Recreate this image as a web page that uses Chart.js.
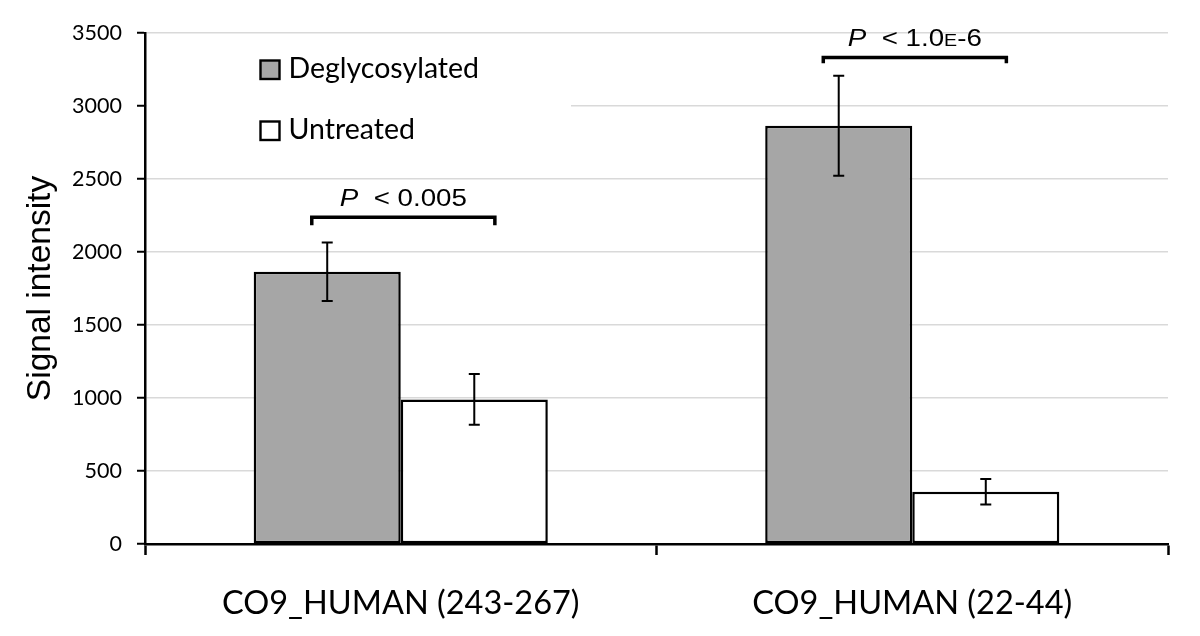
<!DOCTYPE html>
<html>
<head>
<meta charset="utf-8">
<script src="https://cdn.jsdelivr.net/npm/chart.js@4.4.1/dist/chart.umd.min.js"></script>
<style>
  html, body { margin: 0; padding: 0; background: #fff; }
  #wrap { width: 1200px; height: 636px; }
</style>
</head>
<body>
<div id="wrap"><canvas id="c" width="1200" height="636"></canvas></div>
<script>
// ---- data ----
const categories = ['CO9_HUMAN (243-267)', 'CO9_HUMAN (22-44)'];
const seriesNames = ['Deglycosylated', 'Untreated'];
const deglycosylatedValues = [1865, 2865];
const deglycosylatedErrors = [200, 343];
const untreatedValues = [990, 358];
const untreatedErrors = [174, 88];
const yTicks = [0, 500, 1000, 1500, 2000, 2500, 3000, 3500];
// significance brackets: level of bracket bar, level of bracket feet, label runs
const bracketLevels = [2238, 3333];
const bracketFeet = [2184, 3292];
const bracketLabels = [
  [['P', 'italic'], ['  < 0.005', 'normal']],
  [['P', 'italic'], ['  < 1.0', 'normal'], ['E', 'small'], ['-6', 'normal']]
];

const FONT_CAL = 'Lato, "Open Sans", sans-serif';
const FONT_ARIAL = '"Liberation Sans", Arial, sans-serif';
const P_STRETCH = 1.155;

const errorPlugin = {
  id: 'extras',
  beforeDatasetsDraw(chart) {
    const ctx = chart.ctx;
    const a = chart.chartArea;
    // legend background hides gridline behind it
    ctx.save();
    ctx.fillStyle = '#fff';
    ctx.fillRect(a.left + 2, a.top + 10, 424, 112);
    ctx.restore();
  },
  afterDatasetsDraw(chart) {
    const ctx = chart.ctx;
    const y = chart.scales.y;
    const a = chart.chartArea;
    const errs = [deglycosylatedErrors, untreatedErrors];
    ctx.save();
    ctx.strokeStyle = '#000';
    ctx.lineWidth = 2;
    chart.data.datasets.forEach((ds, di) => {
      const meta = chart.getDatasetMeta(di);
      meta.data.forEach((bar, i) => {
        const v = ds.data[i], e = errs[di][i];
        const x = bar.x;
        const yt = y.getPixelForValue(v + e), yb = y.getPixelForValue(v - e);
        ctx.beginPath();
        ctx.moveTo(x, yt); ctx.lineTo(x, yb);
        ctx.moveTo(x - 5.5, yt); ctx.lineTo(x + 5.5, yt);
        ctx.moveTo(x - 5.5, yb); ctx.lineTo(x + 5.5, yb);
        ctx.stroke();
      });
    });
    // brackets
    const m0 = chart.getDatasetMeta(0), m1 = chart.getDatasetMeta(1);
    bracketLevels.forEach((lv, i) => {
      const b0 = m0.data[i], b1 = m1.data[i];
      const w = b0.width;
      const x0 = b0.x - 0.105 * w, x1 = b1.x + 0.14 * w;
      const yl = y.getPixelForValue(lv), yf = y.getPixelForValue(bracketFeet[i]);
      ctx.lineWidth = 3.5;
      ctx.lineCap = 'butt';
      ctx.strokeStyle = '#000';
      ctx.beginPath();
      ctx.moveTo(x0, yf); ctx.lineTo(x0, yl); ctx.lineTo(x1, yl); ctx.lineTo(x1, yf);
      ctx.stroke();
      // label (slightly stretched horizontally like the original)
      const runs = bracketLabels[i];
      const fontFor = (s) => s === 'italic' ? 'italic 24px ' + FONT_ARIAL : (s === 'small' ? '17px ' + FONT_ARIAL : '24px ' + FONT_ARIAL);
      let total = 0;
      runs.forEach(r => { ctx.font = fontFor(r[1]); total += ctx.measureText(r[0]).width; });
      ctx.save();
      ctx.translate((x0 + x1) / 2 - total * P_STRETCH / 2, yl - 11);
      ctx.scale(P_STRETCH, 1);
      let x = 0;
      ctx.fillStyle = '#000';
      ctx.textBaseline = 'alphabetic';
      ctx.textAlign = 'left';
      runs.forEach(r => {
        ctx.font = fontFor(r[1]);
        ctx.fillText(r[0], x, 0);
        x += ctx.measureText(r[0]).width;
      });
      ctx.restore();
    });
    // legend
    const colors = [chart.data.datasets[0].backgroundColor, chart.data.datasets[1].backgroundColor];
    seriesNames.forEach((name, i) => {
      const sx = a.left + 115.5, sy = a.top + 27.5 + i * 61;
      ctx.fillStyle = colors[i];
      ctx.fillRect(sx, sy, 19, 18.5);
      ctx.lineWidth = 2.4;
      ctx.strokeStyle = '#000';
      ctx.strokeRect(sx, sy, 19, 18.5);
      ctx.fillStyle = '#000';
      ctx.font = '28.5px ' + FONT_CAL;
      ctx.textBaseline = 'alphabetic';
      ctx.textAlign = 'left';
      ctx.fillText(name, sx + 28, sy + 17);
    });
    ctx.restore();
  }
};

new Chart(document.getElementById('c'), {
  type: 'bar',
  data: {
    labels: categories,
    datasets: [
      { label: seriesNames[0], data: deglycosylatedValues, backgroundColor: '#a6a6a6', borderColor: '#000', borderWidth: 2.5, borderSkipped: false },
      { label: seriesNames[1], data: untreatedValues, backgroundColor: '#ffffff', borderColor: '#000', borderWidth: 2.5, borderSkipped: false }
    ]
  },
  options: {
    responsive: false,
    animation: false,
    devicePixelRatio: 1,
    categoryPercentage: 0.575,
    barPercentage: 1.0,
    layout: { padding: { left: 0, right: 32, top: 33, bottom: 0 } },
    plugins: { legend: { display: false }, tooltip: { enabled: false } },
    scales: {
      y: {
        min: 0, max: 3500,
        afterBuildTicks(s) { s.ticks = yTicks.map(v => ({ value: v })); },
        afterFit(s) { s.width = 145; },
        ticks: { font: { family: FONT_CAL, size: 21.5 }, color: '#000', padding: 15, callback: (v) => String(v) },
        grid: { color: '#d9d9d9', lineWidth: 1.5, tickColor: '#000', tickLength: 8, tickWidth: 2 },
        border: { color: '#000', width: 2.5 },
        title: { display: true, text: 'Signal intensity', color: '#000', font: { family: FONT_ARIAL, size: 33.5 }, padding: { top: 21, bottom: 0 } }
      },
      x: {
        afterFit(s) { s.height = 92; },
        ticks: { font: { family: FONT_CAL, size: 32.5 }, color: '#000', padding: 29 },
        grid: { offset: true, drawOnChartArea: false, tickColor: '#000', tickLength: 11, tickWidth: 2.5 },
        border: { color: '#000', width: 2.5 }
      }
    }
  },
  plugins: [errorPlugin]
});
</script>
</body>
</html>
